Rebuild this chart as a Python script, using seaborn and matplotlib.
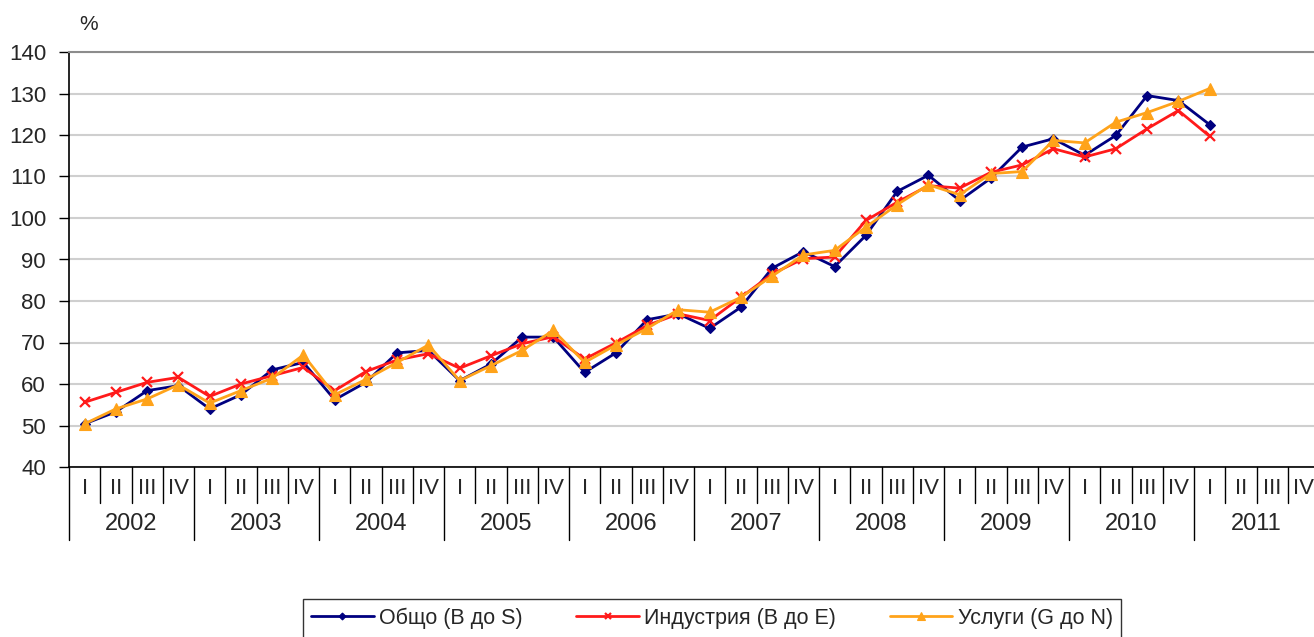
import pandas as pd
import matplotlib.pyplot as plt
import matplotlib.transforms as mtransforms
import seaborn as sns

# quarterly index values, 2002 Q1 - 2011 Q1
years = ["2002", "2003", "2004", "2005", "2006", "2007", "2008", "2009", "2010", "2011"]
quarters = ["I", "II", "III", "IV"]

obshto = [50.4, 53.3, 58.4, 59.6, 54.0, 57.4, 63.4, 65.2, 56.2, 60.4, 67.5, 68.1,
          60.8, 64.8, 71.3, 71.3, 62.8, 67.5, 75.5, 76.9, 73.4, 78.5, 87.9, 91.9,
          88.3, 95.8, 106.4, 110.3, 104.2, 109.6, 117.1, 119.1, 115.1, 119.9, 129.5, 128.3,
          122.5]
industriya = [55.6, 58.0, 60.4, 61.6, 57.0, 60.0, 62.0, 64.0, 58.4, 63.0, 65.8, 67.3,
              63.8, 66.8, 69.7, 71.4, 66.0, 69.9, 74.1, 76.9, 75.3, 80.9, 86.5, 90.2,
              90.6, 99.4, 103.8, 107.8, 107.2, 111.0, 112.8, 116.7, 114.7, 116.7, 121.5, 125.9,
              119.7]
uslugi = [50.4, 54.0, 56.4, 59.8, 55.4, 58.4, 61.4, 67.0, 57.4, 61.1, 65.2, 69.4,
          60.8, 64.4, 68.1, 72.9, 65.2, 69.4, 73.4, 77.9, 77.3, 80.9, 86.0, 91.1,
          92.2, 97.8, 103.2, 108.0, 105.6, 110.7, 111.2, 118.7, 118.1, 123.1, 125.4, 128.1,
          131.2]

series_names = ["Общо (B до S)", "Индустрия (B до E)", "Услуги (G до N)"]
colors = ["#000080", "#FF1A1A", "#FFA31A"]
markers = ["D", "x", "^"]
msizes = [5, 7, 8]

sns.set_style("white")
plt.rcParams["font.family"] = ["Liberation Sans", "DejaVu Sans"]

fig = plt.figure(figsize=(13.14, 6.37), dpi=100)
ax = fig.add_axes([69 / 1314, 1 - 467 / 637, 1250 / 1314, 415 / 637])

for name, vals, c, m, ms in zip(series_names, [obshto, industriya, uslugi], colors, markers, msizes):
    df = pd.DataFrame({"idx": range(len(vals)), "value": vals})
    sns.lineplot(data=df, x="idx", y="value", ax=ax, color=c, marker=m,
                 markersize=ms, markeredgecolor=c, markerfacecolor=c,
                 markeredgewidth=1.6 if m == "x" else 0.8, linewidth=2.0, label=name)

n_q = len(years) * 4
ax.set_xlim(-0.5, n_q - 0.5)
ax.set_ylim(40, 140)
ax.set_yticks(range(40, 141, 10))
ax.yaxis.grid(True, color="#CFCFCF", linewidth=1.5)
ax.set_axisbelow(True)
ax.tick_params(axis="y", left=True, length=7, width=1, color="black",
               labelsize=16, pad=9.5)

ax.set_xticks(range(n_q))
ax.set_xticklabels(quarters * len(years))
ax.tick_params(axis="x", bottom=True, length=0, labelsize=16, pad=8)
ax.set_xlabel("")
ax.set_ylabel("")

for side in ["left", "bottom"]:
    ax.spines[side].set_color("black")
    ax.spines[side].set_linewidth(1.2)
ax.spines["top"].set_color("#8C8C8C")
ax.spines["top"].set_linewidth(1.5)
ax.spines["right"].set_visible(False)

# multi-level category axis separators
trans = mtransforms.blended_transform_factory(ax.transData, ax.transAxes)
for b in range(n_q + 1):
    x = b - 0.5
    depth = 73 / 415 if b % 4 == 0 else 36 / 415
    ax.plot([x, x], [0, -depth], transform=trans, color="black",
            linewidth=1, clip_on=False)
for i, y in enumerate(years):
    ax.text(4 * i + 1.5, -57 / 415, y, transform=trans, ha="center", va="center",
            fontsize=17)

fig.text(89 / 1314, 1 - 25 / 637, "%", ha="center", va="center", fontsize=15)

handles, labels = ax.get_legend_handles_labels()
ax.legend_.remove()
leg = fig.legend(handles, labels, loc="upper center", ncol=3,
                 bbox_to_anchor=(712 / 1314, 1 - 599 / 637), borderaxespad=0,
                 fontsize=15.5, frameon=True, fancybox=False, edgecolor="black",
                 handlelength=2.9, columnspacing=2.5, handletextpad=0.25,
                 borderpad=0.4, markerscale=0.7)
leg.get_frame().set_linewidth(1)

fig.savefig("out.png", dpi=100)
